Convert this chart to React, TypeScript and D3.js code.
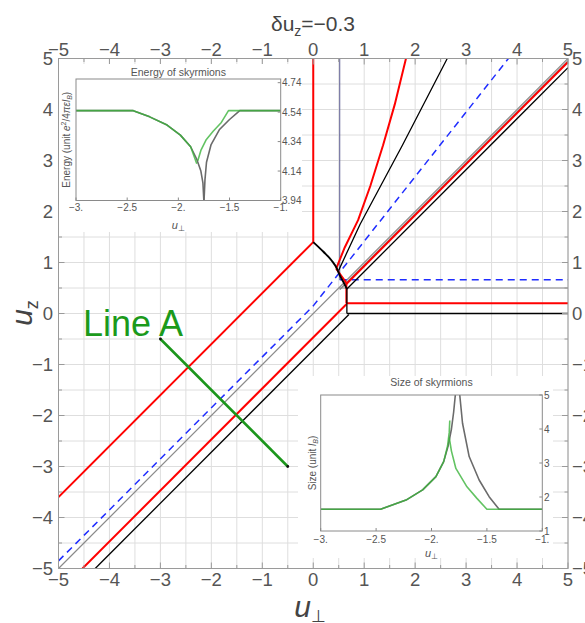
import React from "react";
import * as d3 from "d3";

type P = [number, number];

// ---------- main chart data (u_perp, u_z) ----------
const axisTicks = [-5, -4, -3, -2, -1, 0, 1, 2, 3, 4, 5];
const titleDelta = "−0.3";

const redPaths: P[][] = [
  [[0, 5], [0, 1.4]],
  [[0, 1.4], [-5, -3.6]],
  [[0.45, 0.88], [0.55, 0.74], [0.65, 0.6]],
  [[0.45, 0.88], [0.62, 1.3], [0.88, 1.83], [1.12, 2.5], [1.37, 3.3], [1.6, 4.1], [1.82, 5]],
  [[0.65, 0.6], [0.65, 0.2]],
  [[0.65, 0.2], [5, 0.2]],
  [[0.65, 0.18], [-4.53, -5]],
  [[0.65, 0.58], [5, 4.93]],
];

const blackCurve: P[] = [[0, 1.4], [0.2, 1.21], [0.36, 1.04], [0.46, 0.89], [0.52, 0.75], [0.6, 0.6], [0.66, 0.48]];

const blackPaths: P[][] = [
  [[0.5, 0.85], [0.92, 1.75], [1.75, 3.3], [2.63, 5]],
  [[0.66, 0.48], [5, 4.82]],
  [[0.66, 0.48], [0.66, 0]],
  [[0.66, 0], [5, 0]],
  [[0.7, -0.02], [-4.28, -5]],
];

const grayPaths: P[][] = [
  [[-5, -5], [5, 5]],
  [[0.52, 0.47], [5, 4.95]],
  [[0.5, 0.5], [5, 0.5]],
];

const blueDashed: P[][] = [
  [[-5, -4.85], [0, 0.15], [3.83, 5]],
  [[0.52, 0.66], [5, 0.66]],
];

const navyPaths: P[][] = [[[0.52, 5], [0.52, 0.66]]];

const lineA: P[] = [[-3, -0.5], [-0.5, -3]];
const lineALabel = "Line A";

// ---------- energy inset ----------
const insetTicksX = [-3, -2.5, -2, -1.5, -1];
const insetTickLabelsX = ["−3.", "−2.5", "−2.", "−1.5", "−1."];
const energyTicks = [3.94, 4.14, 4.34, 4.54, 4.74];
const energyGrayLeft: P[] = [[-3, 4.55], [-2.44, 4.55], [-2.28, 4.508], [-2.11, 4.452], [-1.98, 4.384], [-1.88, 4.305], [-1.82, 4.22], [-1.78, 4.14], [-1.76, 4.06], [-1.751, 3.94]];
const energyGrayRight: P[] = [[-1.749, 3.94], [-1.74, 4.08], [-1.725, 4.2], [-1.68, 4.32], [-1.6, 4.42], [-1.5, 4.49], [-1.4, 4.55], [-1, 4.55]];
const energyGreenLeft: P[] = [[-3, 4.55], [-2.44, 4.55], [-2.28, 4.508], [-2.11, 4.452], [-1.98, 4.384], [-1.88, 4.305], [-1.82, 4.19]];
const energyGreenRight: P[] = [[-1.81, 4.21], [-1.78, 4.28], [-1.73, 4.35], [-1.66, 4.41], [-1.58, 4.47], [-1.51, 4.55], [-1, 4.55]];

// ---------- size inset ----------
const sizeTicks = [1, 2, 3, 4, 5];
const sizeGrayLeft: P[] = [[-3, 1.64], [-2.46, 1.64], [-2.23, 1.91], [-2.08, 2.21], [-1.96, 2.6], [-1.89, 3.04], [-1.85, 3.5], [-1.82, 4.0], [-1.8, 4.5], [-1.785, 5]];
const sizeGrayRight: P[] = [[-1.745, 5], [-1.72, 4.17], [-1.66, 3.19], [-1.57, 2.5], [-1.48, 2.01], [-1.39, 1.64], [-1, 1.64]];
const sizeGreenLeft: P[] = [[-3, 1.64], [-2.46, 1.64], [-2.23, 1.91], [-2.08, 2.21], [-1.96, 2.6], [-1.89, 3.04], [-1.855, 3.5], [-1.84, 3.9], [-1.835, 4.25]];
const sizeGreenRight: P[] = [[-1.84, 3.75], [-1.82, 3.35], [-1.78, 2.84], [-1.68, 2.3], [-1.59, 1.96], [-1.5, 1.64], [-1, 1.64]];

const FONT = "'Liberation Sans', Arial, Helvetica, sans-serif";
const fmt = (v: number) => (v < 0 ? "−" + Math.abs(v) : String(v));

export default function App() {
  const W = 585, H = 623;
  const x = d3.scaleLinear().domain([-5, 5]).range([58.5, 568]);
  const y = d3.scaleLinear().domain([-5, 5]).range([568.5, 58.5]);
  const line = d3.line<P>().x((d) => x(d[0])).y((d) => y(d[1]));
  const curve = d3.line<P>().x((d) => x(d[0])).y((d) => y(d[1])).curve(d3.curveMonotoneX);
  const grid = d3.range(-5, 5.001, 0.5);

  const ex = d3.scaleLinear().domain([-3, -1]).range([76, 280.7]);
  const ey = d3.scaleLinear().domain([3.94, 4.765]).range([200.5, 79]);
  const eline = d3.line<P>().x((d) => ex(d[0])).y((d) => ey(d[1]));
  const sx = d3.scaleLinear().domain([-3, -1]).range([320.7, 542.3]);
  const sy = d3.scaleLinear().domain([1, 5]).range([531, 395]);
  const sline = d3.line<P>().x((d) => sx(d[0])).y((d) => sy(d[1]));

  const [x0, x1] = x.range();
  const [y0, y1] = [y(5), y(-5)];

  return (
    <svg width={W} height={H} style={{ position: "absolute", left: 0, top: 0, background: "#fff" }} fontFamily={FONT}>
      <defs>
        <clipPath id="plot">
          <rect x={x0} y={y0} width={x1 - x0} height={y1 - y0} />
        </clipPath>
        <clipPath id="eclip">
          <rect x={ex(-3)} y={ey(4.765)} width={ex(-1) - ex(-3)} height={ey(3.94) - ey(4.765)} />
        </clipPath>
        <clipPath id="sclip">
          <rect x={sx(-3)} y={sy(5) - 1} width={sx(-1) - sx(-3)} height={sy(1) - sy(5) + 1} />
        </clipPath>
      </defs>
      <rect x={0} y={0} width={W} height={H} fill="#fff" />

      <g stroke="#dedede" strokeWidth={1}>
        {grid.map((g) => (
          <line key={"gx" + g} x1={x(g)} x2={x(g)} y1={y0} y2={y1} />
        ))}
        {grid.map((g) => (
          <line key={"gy" + g} y1={y(g)} y2={y(g)} x1={x0} x2={x1} />
        ))}
      </g>

      <g clipPath="url(#plot)" fill="none" strokeLinejoin="round">
        {grayPaths.map((p, i) => (
          <path key={"g" + i} d={line(p)!} stroke="#8a8a8a" strokeWidth={i === 1 ? 1.6 : 1.2} />
        ))}
        {navyPaths.map((p, i) => (
          <path key={"n" + i} d={line(p)!} stroke="#5a5a90" strokeWidth={1} />
        ))}
        {blueDashed.map((p, i) => (
          <path key={"b" + i} d={line(p)!} stroke="#1f2dff" strokeWidth={1.5} strokeDasharray="7,5" />
        ))}
        {redPaths.map((p, i) => (
          <path key={"r" + i} d={line(p)!} stroke="#ff0000" strokeWidth={2} />
        ))}
        {blackPaths.map((p, i) => (
          <path key={"k" + i} d={line(p)!} stroke="#000" strokeWidth={1.3} />
        ))}
        <path d={curve(blackCurve)!} stroke="#000" strokeWidth={1.9} />
        <path d={line(lineA)!} stroke="#1b961b" strokeWidth={2.6} />
        {lineA.map((p, i) => (
          <circle key={"la" + i} cx={x(p[0])} cy={y(p[1])} r={1.4} fill="#111" />
        ))}
      </g>
      <text x={83} y={336} fontSize={36} fill="#1b9a1b">{lineALabel}</text>

      <rect x={x0} y={y0} width={x1 - x0} height={y1 - y0} fill="none" stroke="#9a9a9a" strokeWidth={1} />
      <g stroke="#9a9a9a" strokeWidth={1}>
        {grid.map((g) => {
          const L = Number.isInteger(g) ? 6 : 3.5;
          return (
            <g key={"t" + g}>
              <line x1={x(g)} x2={x(g)} y1={y1} y2={y1 - L} />
              <line x1={x(g)} x2={x(g)} y1={y0} y2={y0 + L} />
              <line y1={y(g)} y2={y(g)} x1={x0} x2={x0 + L} />
              <line y1={y(g)} y2={y(g)} x1={x1} x2={x1 - L} />
            </g>
          );
        })}
      </g>
      <g fontSize={18.5} fill="#555">
        {axisTicks.map((t) => (
          <text key={"bt" + t} x={x(t)} y={586} textAnchor="middle">{fmt(t)}</text>
        ))}
        {axisTicks.map((t) => (
          <text key={"tt" + t} x={x(t)} y={56} textAnchor="middle">{fmt(t)}</text>
        ))}
        {axisTicks.map((t) => (
          <text key={"lt" + t} x={53} y={y(t) + 6.5} textAnchor="end">{fmt(t)}</text>
        ))}
        {axisTicks.map((t) => (
          <text key={"rt" + t} x={572} y={y(t) + 6.5} textAnchor="start">{fmt(t)}</text>
        ))}
      </g>

      <text x={313} y={31} textAnchor="middle" fontSize={21} fill="#444">
        δu<tspan fontSize={14} dy={5}>z</tspan>
        <tspan dy={-5}>={titleDelta}</tspan>
      </text>
      <text x={310} y={617} textAnchor="middle" fontSize={30} fill="#444">
        <tspan fontStyle="italic">u</tspan>
        <tspan fontSize={17} dy={5}>⊥</tspan>
      </text>
      <text transform="translate(32,313) rotate(-90)" textAnchor="middle" fontSize={30} fill="#444">
        <tspan fontStyle="italic">u</tspan>
        <tspan fontSize={18} dy={6}>z</tspan>
      </text>

      {/* energy inset */}
      <rect x={59} y={64} width={243} height={168} fill="#fff" />
      <text x={(ex(-3) + ex(-1)) / 2} y={76} textAnchor="middle" fontSize={10.5} fill="#555">Energy of skyrmions</text>
      <g clipPath="url(#eclip)" fill="none" strokeWidth={1.6} strokeLinejoin="round">
        <path d={eline(energyGrayLeft)!} stroke="#6b6b6b" />
        <path d={eline(energyGrayRight)!} stroke="#6b6b6b" />
        <path d={eline(energyGreenLeft)!} stroke="#3cb43c" strokeOpacity={0.8} />
        <path d={eline(energyGreenRight)!} stroke="#3cb43c" strokeOpacity={0.8} />
      </g>
      <rect x={ex(-3)} y={ey(4.765)} width={ex(-1) - ex(-3)} height={ey(3.94) - ey(4.765)} fill="none" stroke="#8a8a8a" strokeWidth={1} />
      <g stroke="#8a8a8a">
        {insetTicksX.map((t) => (
          <line key={"ext" + t} x1={ex(t)} x2={ex(t)} y1={ey(3.94)} y2={ey(3.94) - 3} />
        ))}
        {energyTicks.map((t) => (
          <line key={"eyt" + t} x1={ex(-1)} x2={ex(-1) - 3} y1={ey(t)} y2={ey(t)} />
        ))}
      </g>
      <g fontSize={10} fill="#555">
        {insetTicksX.map((t, i) => (
          <text key={"exl" + t} x={ex(t)} y={211} textAnchor="middle">{insetTickLabelsX[i]}</text>
        ))}
        {energyTicks.map((t) => (
          <text key={"eyl" + t} x={282} y={ey(t) + 3.5}>{t.toFixed(2)}</text>
        ))}
      </g>
      <text x={(ex(-3) + ex(-1)) / 2} y={229} textAnchor="middle" fontSize={11} fill="#555">
        <tspan fontStyle="italic">u</tspan>
        <tspan fontSize={8} dy={2}>⊥</tspan>
      </text>
      <text transform={`translate(70,${(ey(3.94) + ey(4.765)) / 2}) rotate(-90)`} textAnchor="middle" fontSize={10} fill="#555">
        Energy (unit <tspan fontStyle="italic">e</tspan>
        <tspan fontSize={7} dy={-4}>2</tspan>
        <tspan dy={4}>/4</tspan>
        <tspan fontStyle="italic">πεl</tspan>
        <tspan fontSize={7} dy={2} fontStyle="italic">B</tspan>
        <tspan dy={-2}>)</tspan>
      </text>

      {/* size inset */}
      <rect x={298} y={376} width={255} height={182} fill="#fff" />
      <text x={(sx(-3) + sx(-1)) / 2} y={386} textAnchor="middle" fontSize={10.5} fill="#555">Size of skyrmions</text>
      <g clipPath="url(#sclip)" fill="none" strokeWidth={1.6} strokeLinejoin="round">
        <path d={sline(sizeGrayLeft)!} stroke="#6b6b6b" />
        <path d={sline(sizeGrayRight)!} stroke="#6b6b6b" />
        <path d={sline(sizeGreenLeft)!} stroke="#3cb43c" strokeOpacity={0.8} />
        <path d={sline(sizeGreenRight)!} stroke="#3cb43c" strokeOpacity={0.8} />
      </g>
      <rect x={sx(-3)} y={sy(5)} width={sx(-1) - sx(-3)} height={sy(1) - sy(5)} fill="none" stroke="#8a8a8a" strokeWidth={1} />
      <g stroke="#8a8a8a">
        {insetTicksX.map((t) => (
          <line key={"sxt" + t} x1={sx(t)} x2={sx(t)} y1={sy(1)} y2={sy(1) - 3} />
        ))}
        {sizeTicks.map((t) => (
          <line key={"syt" + t} x1={sx(-1)} x2={sx(-1) - 3} y1={sy(t)} y2={sy(t)} />
        ))}
      </g>
      <g fontSize={10} fill="#555">
        {insetTicksX.map((t, i) => (
          <text key={"sxl" + t} x={sx(t)} y={543} textAnchor="middle">{insetTickLabelsX[i]}</text>
        ))}
        {sizeTicks.map((t) => (
          <text key={"syl" + t} x={544} y={sy(t) + 3.5}>{t}</text>
        ))}
      </g>
      <text x={(sx(-3) + sx(-1)) / 2} y={557} textAnchor="middle" fontSize={11} fill="#555">
        <tspan fontStyle="italic">u</tspan>
        <tspan fontSize={8} dy={2}>⊥</tspan>
      </text>
      <text transform={`translate(316,${(sy(1) + sy(5)) / 2}) rotate(-90)`} textAnchor="middle" fontSize={10} fill="#555">
        Size (unit <tspan fontStyle="italic">l</tspan>
        <tspan fontSize={7} dy={2} fontStyle="italic">B</tspan>
        <tspan dy={-2}>)</tspan>
      </text>
    </svg>
  );
}
